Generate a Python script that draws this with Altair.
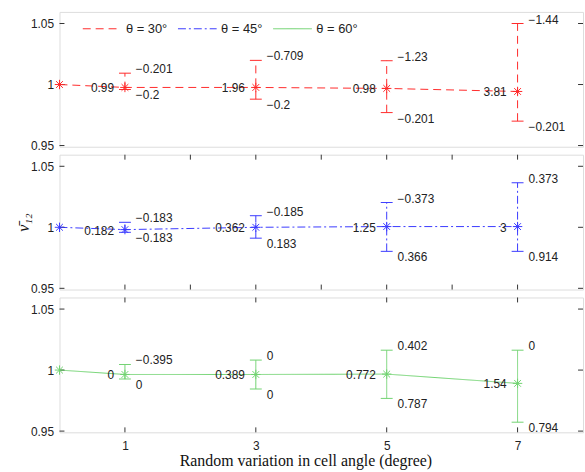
import altair as alt
import pandas as pd

# Series and styling
series = ["θ = 30°", "θ = 45°", "θ = 60°"]
colors = ["#ff2a2a", "#3a3aff", "#70d270"]
dashes = [[8, 5], [8, 3, 2, 3], [1, 0]]

# Random variation in cell angle (degree)
angle = [0, 1, 3, 5, 7]
err_angle = [1, 3, 5, 7]

# Mean normalised Poisson's ratio and error-bar limits
mean_30 = [1.0, 0.9976, 0.9976, 0.9968, 0.9943]
lo_30 = [0.9959, 0.9880, 0.9770, 0.9700]
hi_30 = [1.0093, 1.0198, 1.0195, 1.0500]
left_30 = ["0.99", "1.96", "0.98", "3.81"]
top_30 = ["−0.201", "−0.709", "−1.23", "−1.44"]
bot_30 = ["−0.2", "−0.2", "−0.201", "−0.201"]

mean_45 = [1.0, 0.9981, 1.0, 1.0006, 1.0006]
lo_45 = [0.9959, 0.9911, 0.9803, 0.9803]
hi_45 = [1.0041, 1.0095, 1.0203, 1.0365]
left_45 = ["0.182", "0.362", "1.25", "3"]
top_45 = ["−0.183", "−0.185", "−0.373", "0.373"]
bot_45 = ["−0.183", "0.183", "0.366", "0.914"]

mean_60 = [1.0, 0.9964, 0.9964, 0.9967, 0.9891]
lo_60 = [0.9927, 0.9845, 0.9768, 0.9573]
hi_60 = [1.0046, 1.0082, 1.0163, 1.0163]
left_60 = ["0", "0.389", "0.772", "1.54"]
top_60 = ["−0.395", "0", "0.402", "0"]
bot_60 = ["0", "0", "0.787", "0.794"]

y_ticks = [0.95, 1.0, 1.05]
x_ticks_all = [1, 2, 3, 4, 5, 6, 7]
x_ticks_odd = [1, 3, 5, 7]

W, H = 528, 136
XS = alt.Scale(domain=[0, 8], nice=False)
YS = alt.Scale(domain=[0.949, 1.0595], nice=False, zero=False)
ASTERISK = "M-1,0L1,0M0,-1L0,1M-0.72,-0.72L0.72,0.72M-0.72,0.72L0.72,-0.72"
TXT = "#222222"


def panel(i, mean, lo, hi, left, top, bot, x_tick_vals, bottom_axis, y_title):
    line_df = pd.DataFrame({"angle": angle, "value": mean, "series": series[i]})
    err_df = pd.DataFrame({
        "angle": err_angle, "value": mean[1:], "lo": lo, "hi": hi,
        "left": left, "top": top, "bottom": bot,
    })
    ytick_df = pd.DataFrame({"value": y_ticks})
    xtick_df = pd.DataFrame({"angle": x_tick_vals})

    if bottom_axis:
        x_axis = alt.Axis(values=x_ticks_odd, format="d", ticks=False, domain=False,
                          grid=False, labelFontSize=12, labelPadding=8, labelColor=TXT,
                          title="Random variation in cell angle (degree)",
                          titleFont="Liberation Serif", titleFontSize=16,
                          titleFontWeight="normal", titleColor="#111111",
                          titleX=248, titleY=20)
    else:
        x_axis = None
    y_axis = alt.Axis(values=y_ticks, format=".2~f", ticks=False, domain=False,
                      grid=False, labelFontSize=12, labelPadding=6, labelColor=TXT,
                      title=y_title if y_title else "", titleFont="Liberation Serif",
                      titleFontStyle="italic", titleFontWeight="normal",
                      titleFontSize=16, titleColor="#111111", titleX=-28, titleY=H / 2)

    def X(field="angle"):
        return alt.X(f"{field}:Q", scale=XS, axis=x_axis)

    def Y(field="value"):
        return alt.Y(f"{field}:Q", scale=YS, axis=y_axis)

    leg = alt.Legend(title=None)
    line = alt.Chart(line_df).mark_line(strokeWidth=1).encode(
        x=X(), y=Y(),
        color=alt.Color("series:N", scale=alt.Scale(domain=series, range=colors), legend=leg),
        strokeDash=alt.StrokeDash("series:N", scale=alt.Scale(domain=series, range=dashes), legend=leg),
    )
    pts = alt.Chart(line_df).mark_point(shape=ASTERISK, size=90, filled=False,
                                        strokeWidth=1, color=colors[i], opacity=1).encode(
        x=X(), y=Y())
    bars = alt.Chart(err_df).mark_rule(strokeWidth=1, color=colors[i],
                                       strokeDash=dashes[i]).encode(
        x=X(), y=Y("lo"), y2="hi:Q")
    cap_hi = alt.Chart(err_df).mark_tick(orient="horizontal", size=12, thickness=1,
                                         color=colors[i], opacity=1).encode(
        x=X(), y=Y("hi"))
    cap_lo = alt.Chart(err_df).mark_tick(orient="horizontal", size=12, thickness=1,
                                         color=colors[i], opacity=1).encode(
        x=X(), y=Y("lo"))

    txt = dict(fontSize=12, color=TXT, baseline="middle")
    t_left = alt.Chart(err_df).mark_text(align="right", dx=-11, dy=1, **txt).encode(
        x=X(), y=Y(), text="left:N")
    t_top = alt.Chart(err_df).mark_text(align="left", dx=11, dy=-4, **txt).encode(
        x=X(), y=Y("hi"), text="top:N")
    t_bot = alt.Chart(err_df).mark_text(align="left", dx=11, dy=6, **txt).encode(
        x=X(), y=Y("lo"), text="bottom:N")

    # inward tick marks on the frame
    tk = dict(color="#333333", strokeWidth=1)
    yl = alt.Chart(ytick_df).mark_rule(**tk).encode(
        y=Y(), x=alt.value(0), x2=alt.value(5))
    yr = alt.Chart(ytick_df).mark_rule(**tk).encode(
        y=Y(), x=alt.value(W), x2=alt.value(W - 5))
    layers = [yl, yr]
    if x_tick_vals:
        xt = alt.Chart(xtick_df).mark_rule(**tk).encode(
            x=X(), y=alt.value(0), y2=alt.value(5))
        xb = alt.Chart(xtick_df).mark_rule(**tk).encode(
            x=X(), y=alt.value(H), y2=alt.value(H - 5))
        layers += [xt, xb]

    return alt.layer(line, *layers, bars, cap_hi, cap_lo, pts, t_left, t_top, t_bot
                     ).properties(width=W, height=H)


p1 = panel(0, mean_30, lo_30, hi_30, left_30, top_30, bot_30, [], False, None)
p2 = panel(1, mean_45, lo_45, hi_45, left_45, top_45, bot_45, x_ticks_all, False,
           "ν\u0304\u2081\u2082")
p3 = panel(2, mean_60, lo_60, hi_60, left_60, top_60, bot_60, x_ticks_odd, True, None)

chart = alt.vconcat(p1, p2, p3, spacing=8, bounds="flush").resolve_scale(
    color="shared", strokeDash="shared"
).properties(
    padding={"left": 15, "top": 7, "right": 1, "bottom": 0}
).configure_view(
    stroke="#333333", strokeWidth=1.2
).configure(
    font="Liberation Sans"
).configure_legend(
    orient="none", legendX=23, legendY=-3, direction="horizontal",
    symbolType="stroke", symbolSize=1521, symbolStrokeWidth=1,
    labelFontSize=13, labelColor=TXT, labelOffset=4, columnPadding=8, padding=0,
)

chart.save("out.html", embed_options={"renderer": "svg", "actions": False})
